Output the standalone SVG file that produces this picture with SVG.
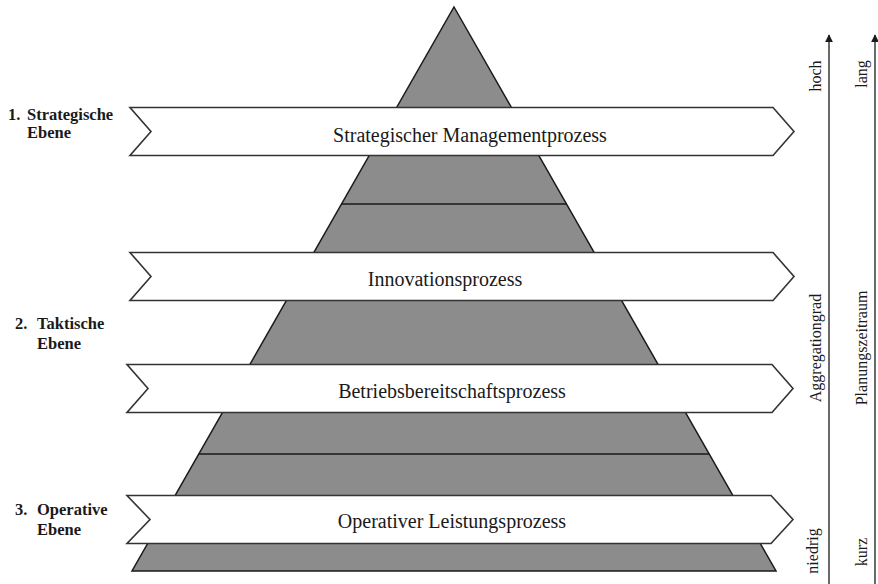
<svg xmlns="http://www.w3.org/2000/svg" width="878" height="584" viewBox="0 0 878 584">
<defs>
<style>
.pyr{fill:#8c8c8c;stroke:#1a1a1a;stroke-width:1.5}
.div{stroke:#1a1a1a;stroke-width:1.5;fill:none}
.band{fill:#ffffff;stroke:#333333;stroke-width:1.6;stroke-linejoin:miter}
.bt{font-family:"Liberation Serif","Times New Roman",serif;font-size:20px;fill:#1a1a1a;text-anchor:middle}
.lvl{font-family:"Liberation Serif","Times New Roman",serif;font-size:16.5px;font-weight:bold;fill:#1a1a1a}
.ax{font-family:"Liberation Serif","Times New Roman",serif;font-size:16px;fill:#1a1a1a;text-anchor:middle}
.axl{stroke:#1a1a1a;stroke-width:1.3;fill:none}
</style>
<marker id="ah" viewBox="0 0 10 10" refX="9" refY="5" markerWidth="8" markerHeight="9" markerUnits="userSpaceOnUse" orient="auto">
<path d="M0,0 L10,5 L0,10 Z" fill="#1a1a1a"/>
</marker>
</defs>

<g id="pyramid">
<polygon class="pyr" points="454,7 776,571 132,571"/>
<line class="div" x1="341.5" y1="204" x2="566.5" y2="204"/>
<line class="div" x1="199" y1="454" x2="709" y2="454"/>
</g>

<g id="band1">
<polygon class="band" points="130,107.5 773,107.5 794,131.5 773,155.5 130,155.5 151,131.5"/>
<text class="bt" x="470" y="142">Strategischer Managementprozess</text>
</g>
<g id="band2">
<polygon class="band" points="130,252.5 773,252.5 794,276.5 773,300.5 130,300.5 151,276.5"/>
<text class="bt" x="445" y="286">Innovationsprozess</text>
</g>
<g id="band3">
<polygon class="band" points="127,364.5 772,364.5 793,388.5 772,412.5 127,412.5 148,388.5"/>
<text class="bt" x="452" y="398">Betriebsbereitschaftsprozess</text>
</g>
<g id="band4">
<polygon class="band" points="127,495.5 771,495.5 793,519.5 771,543.5 127,543.5 150,519.5"/>
<text class="bt" x="452" y="528">Operativer Leistungsprozess</text>
</g>

<g id="level1">
<text class="lvl" x="8" y="120">1.</text>
<text class="lvl" x="27" y="120">Strategische</text>
<text class="lvl" x="27" y="138">Ebene</text>
</g>
<g id="level2">
<text class="lvl" x="15" y="329">2.</text>
<text class="lvl" x="37" y="329">Taktische</text>
<text class="lvl" x="37" y="349">Ebene</text>
</g>
<g id="level3">
<text class="lvl" x="15" y="515">3.</text>
<text class="lvl" x="37" y="515">Operative</text>
<text class="lvl" x="37" y="535">Ebene</text>
</g>

<g id="connectors">
<line class="axl" x1="829" y1="584" x2="829" y2="35" marker-end="url(#ah)"/>
<line class="axl" x1="875" y1="584" x2="875" y2="35" marker-end="url(#ah)"/>
</g>

<g id="axis-aggregation">
<text class="ax" transform="translate(821,76) rotate(-90)">hoch</text>
<text class="ax" transform="translate(821,348) rotate(-90)">Aggregationgrad</text>
<text class="ax" transform="translate(818,551) rotate(-90)">niedrig</text>
</g>
<g id="axis-planning">
<text class="ax" transform="translate(867,74) rotate(-90)">lang</text>
<text class="ax" transform="translate(867,348) rotate(-90)">Planungszeitraum</text>
<text class="ax" transform="translate(867,552) rotate(-90)">kurz</text>
</g>
</svg>
